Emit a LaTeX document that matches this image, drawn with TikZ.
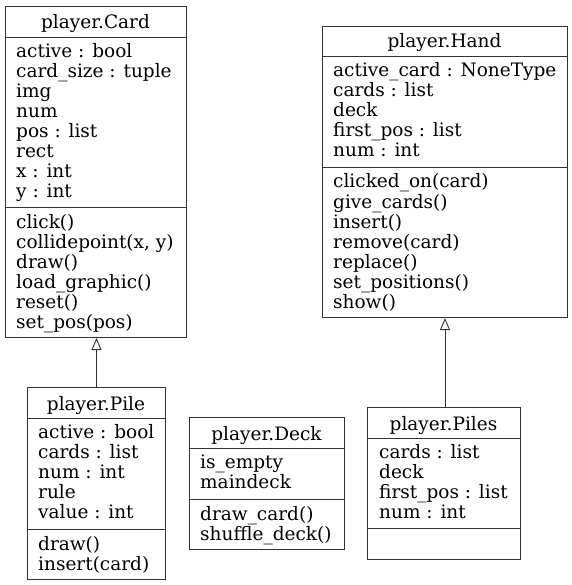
\documentclass[tikz,border=0pt]{standalone}
\usepackage{fontspec}
\setmainfont{DejaVu Serif}
\usetikzlibrary{arrows.meta}
\tikzset{
  classbox/.style={draw=black!80, line width=1pt, fill=white, inner sep=0pt, anchor=north west},
  sepline/.style={draw=black!80, line width=0.9pt},
  txt/.style={inner sep=0pt, anchor=base west, font=\fontsize{18.5}{20}\selectfont},
  ttl/.style={inner sep=0pt, anchor=base, font=\fontsize{18.5}{20}\selectfont},
  inherit/.style={draw=black!80, line width=1pt, -{Triangle[open, length=12pt, width=10pt, line width=0.9pt]}}
}
\begin{document}
\begin{tikzpicture}[x=1pt,y=-1pt]
\useasboundingbox (0,0) rectangle (571,585);
\fill[white] (0,0) rectangle (571,585);

% ---------- player.Card ----------
\node[classbox, minimum width=181pt, minimum height=331pt] (card) at (5,6) {};
\draw[sepline] (5,37) -- (186,37);
\draw[sepline] (5,207) -- (186,207);
\node[ttl] (card-t) at (95.5,29) {player.Card};
\foreach \t [count=\i] in {active : bool, card\_size : tuple, img, num, pos : list, rect, x : int, y : int}
  \node[txt] (card-a\i) at (16,{37+20.5+20*(\i-1)}) {\t};
\foreach \t [count=\i] in {click(), {collidepoint(x, y)}, draw(), load\_graphic(), reset(), set\_pos(pos)}
  \node[txt] (card-m\i) at (16,{207+21+20*(\i-1)}) {\t};

% ---------- player.Hand ----------
\node[classbox, minimum width=245pt, minimum height=291pt] (hand) at (322,26) {};
\draw[sepline] (322,56) -- (567,56);
\draw[sepline] (322,167) -- (567,167);
\node[ttl] (hand-t) at (444.5,48) {player.Hand};
\foreach \t [count=\i] in {active\_card : NoneType, cards : list, deck, first\_pos : list, num : int}
  \node[txt] (hand-a\i) at (333,{56+20.5+20*(\i-1)}) {\t};
\foreach \t [count=\i] in {clicked\_on(card), give\_cards(), insert(), remove(card), replace(), set\_positions(), show()}
  \node[txt] (hand-m\i) at (333,{167+21+20*(\i-1)}) {\t};

% ---------- player.Pile ----------
\node[classbox, minimum width=138pt, minimum height=192pt] (pile) at (27,387) {};
\draw[sepline] (27,418) -- (165,418);
\draw[sepline] (27,529) -- (165,529);
\node[ttl] (pile-t) at (96,410) {player.Pile};
\foreach \t [count=\i] in {active : bool, cards : list, num : int, rule, value : int}
  \node[txt] (pile-a\i) at (38,{418+20.5+20*(\i-1)}) {\t};
\foreach \t [count=\i] in {draw(), insert(card)}
  \node[txt] (pile-m\i) at (38,{529+21+20*(\i-1)}) {\t};

% ---------- player.Deck ----------
\node[classbox, minimum width=155pt, minimum height=132pt] (deck) at (189,417) {};
\draw[sepline] (189,448) -- (344,448);
\draw[sepline] (189,499) -- (344,499);
\node[ttl] (deck-t) at (266.5,440) {player.Deck};
\foreach \t [count=\i] in {is\_empty, maindeck}
  \node[txt] (deck-a\i) at (200,{448+20.5+20*(\i-1)}) {\t};
\foreach \t [count=\i] in {draw\_card(), shuffle\_deck()}
  \node[txt] (deck-m\i) at (200,{499+21+20*(\i-1)}) {\t};

% ---------- player.Piles ----------
\node[classbox, minimum width=153pt, minimum height=152pt] (piles) at (367,407) {};
\draw[sepline] (367,438) -- (520,438);
\draw[sepline] (367,528) -- (520,528);
\node[ttl] (piles-t) at (443.5,430) {player.Piles};
\foreach \t [count=\i] in {cards : list, deck, first\_pos : list, num : int}
  \node[txt] (piles-a\i) at (379,{438+20.5+20*(\i-1)}) {\t};

% ---------- inheritance ----------
\draw[inherit] (pile.north) -- (pile.north |- card.south);
\draw[inherit] (piles.north -| hand.south) -- (hand.south);
\end{tikzpicture}
\end{document}
